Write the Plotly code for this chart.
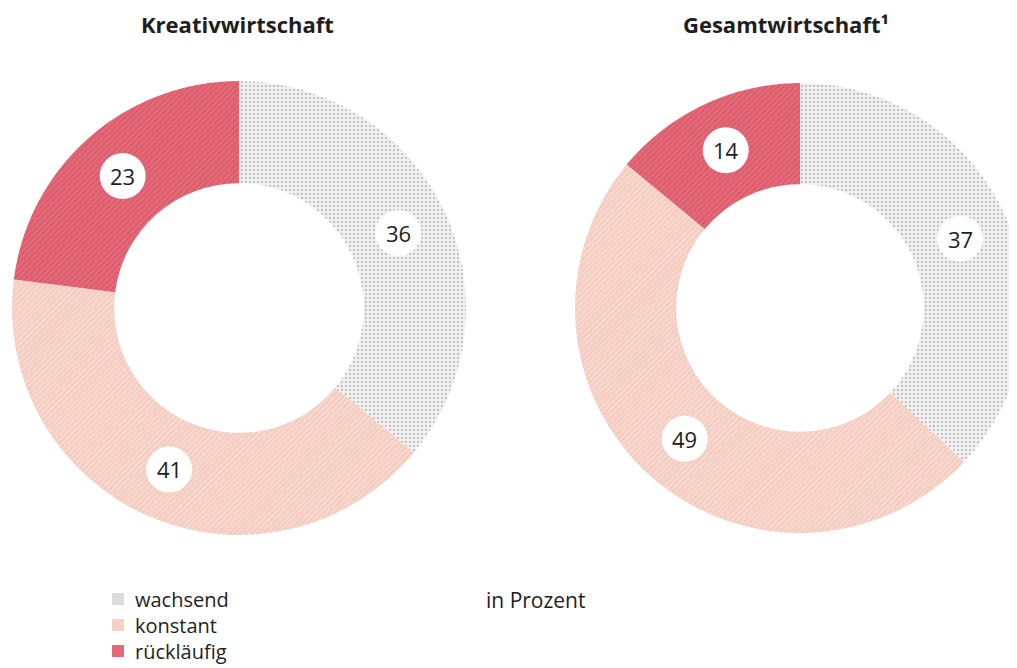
import math
import plotly.graph_objects as go

W, H = 1017, 668
OFF = 8  # page body margin offset

categories = ["wachsend", "konstant", "rückläufig"]
kreativ = [36, 41, 23]
gesamt = [37, 49, 14]
titles = ["Kreativwirtschaft", "Gesamtwirtschaft¹"]
unit_note = "in Prozent"

bg_colors = ["#f3f3f3", "#f7d7cd", "#e36a78"]
fg_colors = ["#c4c4c4", "#f1c6ba", "#d95566"]
legend_colors = ["#dcdcdc", "#f6d0c6", "#e2687a"]
shapes_pat = [".", "/", "/"]
HOLE = 0.55
FONT = "Open Sans, Arial, sans-serif"
TXT = "#1e1e1e"


def fx(px):
    return (px - OFF) / W


def fy(py):
    return 1 - (py - OFF) / H


# pie boxes in screen pixels: (x0, x1, ytop, ybottom)
boxes = [(12, 466, 81, 535), (575, W + OFF, 81, 535)]

fig = go.Figure()
annotations = []
shapes = []

for vals, box in zip([kreativ, gesamt], boxes):
    x0, x1, yt, yb = box
    fig.add_trace(go.Pie(
        labels=categories, values=vals, hole=HOLE, sort=False,
        direction="clockwise", rotation=0,
        marker=dict(colors=bg_colors, line=dict(width=0),
                    pattern=dict(shape=shapes_pat, fgcolor=fg_colors,
                                 bgcolor=bg_colors, fillmode="replace",
                                 size=4, solidity=0.3)),
        textinfo="none", hoverinfo="label+value",
        domain=dict(x=[fx(x0), fx(x1)], y=[fy(yb), fy(yt)]),
        showlegend=False,
    ))

    # value labels in white circles at slice mid-angles
    cx, cy = (x0 + x1) / 2, (yt + yb) / 2
    r = min(x1 - x0, yb - yt) / 2
    rl = r * (1 + HOLE) / 2
    cum = 0
    for v in vals:
        th = math.radians(360 * (cum + v / 2) / sum(vals))
        cum += v
        px, py = cx + rl * math.sin(th), cy - rl * math.cos(th)
        shapes.append(dict(type="circle", xref="paper", yref="paper",
                           x0=fx(px - 23), x1=fx(px + 23),
                           y0=fy(py + 23), y1=fy(py - 23),
                           fillcolor="white", line=dict(width=0), layer="above"))
        annotations.append(dict(x=fx(px), y=fy(py), xref="paper", yref="paper",
                                xanchor="center", yanchor="middle",
                                text=str(v), showarrow=False,
                                font=dict(size=22, color=TXT, family=FONT)))

# titles
for t, xc in zip(titles, [237, 786]):
    annotations.append(dict(x=fx(xc), y=fy(24), xref="paper", yref="paper",
                            xanchor="center", yanchor="middle",
                            text=f"<b>{t}</b>", showarrow=False,
                            font=dict(size=22, color=TXT, family=FONT)))

annotations.append(dict(x=fx(484), y=fy(600), xref="paper", yref="paper",
                        xanchor="left", yanchor="middle",
                        text=unit_note, showarrow=False,
                        font=dict(size=21, color=TXT, family=FONT)))

# legend (manual, tight rows)
for k, (cat, col) in enumerate(zip(categories, legend_colors)):
    ly = 599 + 26 * k
    shapes.append(dict(type="rect", xref="paper", yref="paper",
                       x0=fx(112), x1=fx(124), y0=fy(ly + 6), y1=fy(ly - 6),
                       fillcolor=col, line=dict(width=0)))
    annotations.append(dict(x=fx(133), y=fy(ly), xref="paper", yref="paper",
                            xanchor="left", yanchor="middle",
                            text=cat, showarrow=False,
                            font=dict(size=20, color=TXT, family=FONT)))

fig.update_layout(
    width=W, height=H,
    margin=dict(l=0, r=0, t=0, b=0),
    paper_bgcolor="white", plot_bgcolor="white",
    showlegend=False,
    annotations=annotations, shapes=shapes,
)

fig.write_html("out.html")
